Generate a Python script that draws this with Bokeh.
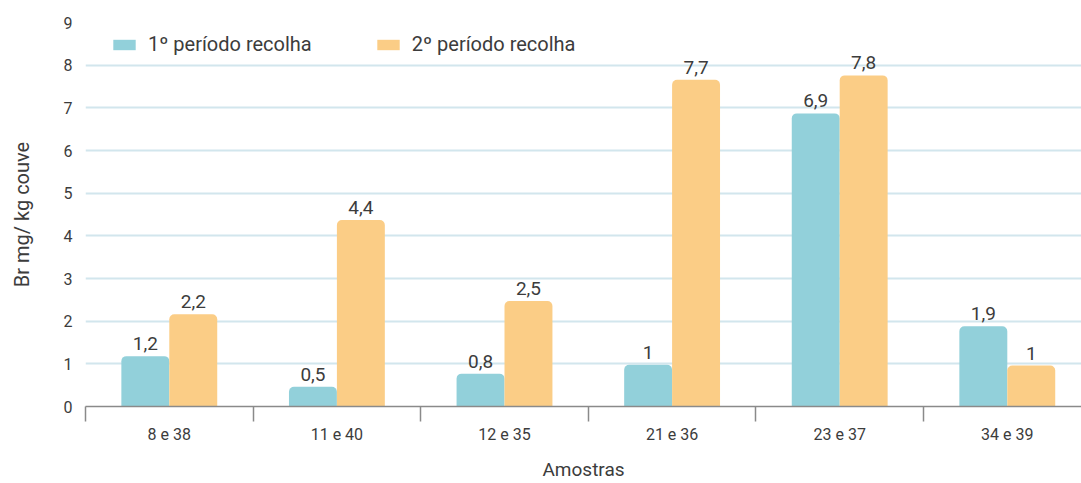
from bokeh.plotting import figure
from bokeh.models import Range1d, FixedTicker, ColumnDataSource, LabelSet, Legend, LegendItem
from bokeh.core.properties import value
from bokeh.embed import file_html
from bokeh.resources import INLINE

categories = ["8 e 38", "11 e 40", "12 e 35", "21 e 36", "23 e 37", "34 e 39"]
period1 = [1.18, 0.46, 0.77, 0.98, 6.87, 1.88]
period2 = [2.16, 4.37, 2.47, 7.66, 7.76, 0.96]
series_names = ["1º período recolha", "2º período recolha"]
y_ticks = [0, 1, 2, 3, 4, 5, 6, 7, 8, 9]
x_title = "Amostras"
y_title = "Br mg/ kg couve"

FONT = "Roboto"
TXT = "#3c3c3c"
BLUE = "#92d0da"
ORANGE = "#fbcd86"
BAR_W = 0.286
X_MAX = 996 / 167.6


def fmt(v):
    s = f"{v:.1f}".replace(".", ",")
    if s.endswith(",0"):
        s = s[:-2]
    return s


n = len(categories)
centers = [i + 0.5 for i in range(n)]

p = figure(width=1081, height=483, output_backend="svg", toolbar_location=None,
           x_range=Range1d(0, X_MAX), y_range=Range1d(0, 9),
           min_border_left=85, min_border_right=0, min_border_top=22, min_border_bottom=77)
p.outline_line_color = None
p.background_fill_color = "white"
p.border_fill_color = "white"

src1 = ColumnDataSource(dict(x=[c - BAR_W / 2 for c in centers], top=period1,
                             lab=[fmt(v) for v in period1]))
src2 = ColumnDataSource(dict(x=[c + BAR_W / 2 for c in centers], top=period2,
                             lab=[fmt(v) for v in period2]))

r1 = p.vbar(x="x", top="top", bottom=0, width=BAR_W, source=src1, fill_color=BLUE,
            line_color=None, border_radius=(5, 5, 0, 0))
r2 = p.vbar(x="x", top="top", bottom=0, width=BAR_W, source=src2, fill_color=ORANGE,
            line_color=None, border_radius=(5, 5, 0, 0))

for s in (src1, src2):
    p.add_layout(LabelSet(x="x", y="top", text="lab", source=s, text_align="center",
                          text_baseline="bottom", y_offset=6, text_font=value(FONT),
                          text_font_size=value("19px"), text_color=value(TXT)))

# x axis
xa = p.xaxis[0]
xa.ticker = FixedTicker(ticks=centers, minor_ticks=list(range(n + 1)))
xa.major_label_overrides = {c: categories[i] for i, c in enumerate(centers)}
xa.major_tick_out = 0
xa.major_tick_in = 0
xa.minor_tick_out = 15
xa.minor_tick_in = 0
xa.minor_tick_line_color = "#8a8a8a"
xa.minor_tick_line_width = 1.5
xa.axis_line_color = "#8a8a8a"
xa.axis_line_width = 1.5
xa.major_label_standoff = 3
xa.major_label_text_font = FONT
xa.major_label_text_font_size = "16px"
xa.major_label_text_color = TXT
xa.axis_label = x_title
xa.axis_label_text_font = FONT
xa.axis_label_text_font_style = "normal"
xa.axis_label_text_font_size = "19px"
xa.axis_label_text_color = TXT
xa.axis_label_standoff = 11

ya = p.yaxis[0]
ya.ticker = FixedTicker(ticks=y_ticks)
ya.axis_line_color = None
ya.major_tick_out = 0
ya.major_tick_in = 0
ya.minor_tick_out = 0
ya.minor_tick_in = 0
ya.major_label_standoff = 13
ya.major_label_text_font = FONT
ya.major_label_text_font_size = "16px"
ya.major_label_text_color = TXT
ya.axis_label = y_title
ya.axis_label_text_font = FONT
ya.axis_label_text_font_style = "normal"
ya.axis_label_text_font_size = "20px"
ya.axis_label_text_color = TXT
ya.axis_label_standoff = 27

p.xgrid.grid_line_color = None
p.ygrid.grid_line_color = "#d2e6ed"
p.ygrid.grid_line_width = 2
p.ygrid.ticker = FixedTicker(ticks=y_ticks[1:])

legend = Legend(items=[LegendItem(label=series_names[0], renderers=[r1]),
                       LegendItem(label=series_names[1], renderers=[r2])],
                orientation="horizontal", location=(25, 350),
                border_line_color=None, background_fill_alpha=0,
                padding=0, margin=0, spacing=62, glyph_width=28, glyph_height=13,
                label_standoff=10, label_height=20, label_text_font=FONT,
                label_text_font_size="20px", label_text_color=TXT)
p.add_layout(legend)

open("out.html", "w").write(file_html(p, INLINE))
